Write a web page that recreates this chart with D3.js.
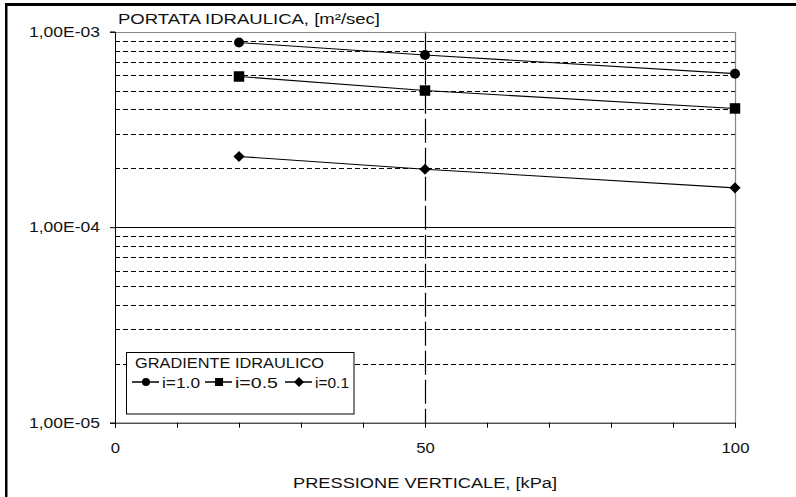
<!DOCTYPE html>
<html>
<head>
<meta charset="utf-8">
<script src="https://cdn.jsdelivr.net/npm/d3@7"></script>
<style>
  html, body { margin: 0; padding: 0; background: #fff; }
  svg { display: block; }
  text { font-family: "Liberation Sans", Arial, sans-serif; fill: #111; }
</style>
</head>
<body>
<svg id="chart" width="796" height="497"></svg>
<script>
// ---- data ----
const pressures = [20, 50, 100];
const seriesNames = ["i=1.0", "i=0.5", "i=0.1"];
const seriesSymbols = ["circle", "square", "diamond"];
const flowI10 = [8.8e-4, 7.6e-4, 6.1e-4];
const flowI05 = [5.9e-4, 5.0e-4, 4.05e-4];
const flowI01 = [2.3e-4, 1.98e-4, 1.59e-4];
const yTickValues = [1e-5, 1e-4, 1e-3];
const yTickLabels = ["1,00E-05", "1,00E-04", "1,00E-03"];
const xTickValues = [0, 10, 20, 30, 40, 50, 60, 70, 80, 90, 100];
const xLabelled = [0, 50, 100];
const yTitle = "PORTATA IDRAULICA, [m²/sec]";
const xTitle = "PRESSIONE VERTICALE, [kPa]";
const legendTitle = "GRADIENTE IDRAULICO";

const seriesData = [flowI10, flowI05, flowI01];

(function () {
// ---- layout / style ----
const svg = d3.select("#chart");
const pLeft = 115, pRight = 735, pTop = 31.7, pBottom = 422.7;
const FS = "14px";
// horizontal stretch of the original lettering
function fit(sel, w) { sel.attr("textLength", w).attr("lengthAdjust", "spacingAndGlyphs"); }

const x = d3.scaleLinear().domain([0, 100]).range([pLeft, pRight]);
const y = d3.scaleLog().domain([1e-5, 1e-3]).range([pBottom, pTop]);

// outer frame (top and left)
svg.append("rect").attr("x", 5).attr("y", 3).attr("width", 791).attr("height", 3).attr("fill", "#000");
svg.append("rect").attr("x", 5).attr("y", 3).attr("width", 2.5).attr("height", 494).attr("fill", "#000");

// minor gridlines
const minor = [];
[1e-5, 1e-4].forEach(d => { for (let m = 2; m <= 9; m++) minor.push(m * d); });
svg.append("g").selectAll("line").data(minor).join("line")
  .attr("x1", pLeft).attr("x2", pRight)
  .attr("y1", d => Math.round(y(d)) + 0.5).attr("y2", d => Math.round(y(d)) + 0.5)
  .attr("stroke", "#000").attr("stroke-width", 1).attr("stroke-dasharray", "5,3");

// major gridline
svg.append("line").attr("x1", pLeft).attr("x2", pRight)
  .attr("y1", Math.round(y(1e-4)) + 0.5).attr("y2", Math.round(y(1e-4)) + 0.5)
  .attr("stroke", "#000").attr("stroke-width", 1);

// vertical dashed line at 50
svg.append("line").attr("x1", Math.round(x(50)) + 0.5).attr("x2", Math.round(x(50)) + 0.5)
  .attr("y1", pTop).attr("y2", pBottom)
  .attr("stroke", "#000").attr("stroke-width", 1.2).attr("stroke-dasharray", "24,5");

// plot border top/right gray
svg.append("path")
  .attr("d", `M${pLeft},${Math.round(pTop) + 0.5}H${Math.round(pRight) + 0.5}V${pBottom}`)
  .attr("fill", "none").attr("stroke", "#888").attr("stroke-width", 1.2);

// axes
const yAxis = d3.axisLeft(y).tickValues(yTickValues)
  .tickFormat((d, i) => yTickLabels[i]).tickSize(5).tickPadding(10);
const gy = svg.append("g").attr("transform", `translate(${pLeft},0)`).call(yAxis);
gy.selectAll("text").style("font-size", FS).style("font-family", null).attr("fill", "#111").call(fit, 71);
gy.selectAll("line, path").attr("stroke", "#000");

const xAxis = d3.axisBottom(x).tickValues(xTickValues)
  .tickFormat(d => xLabelled.includes(d) ? String(d) : "").tickSize(5).tickPadding(15);
const gx = svg.append("g").attr("transform", `translate(0,${pBottom})`).call(xAxis);
gx.selectAll("text").style("font-size", FS).attr("fill", "#111")
  .each(function (d) {
    const s = xLabelled.includes(d) ? String(d) : "";
    if (s) d3.select(this).call(fit, s.length * 9.3);
  });
gx.selectAll("line, path").attr("stroke", "#000");

// titles
svg.append("text").attr("x", 118).attr("y", 24).style("font-size", FS).text(yTitle).call(fit, 262);
svg.append("text").attr("x", 293).attr("y", 488)
  .style("font-size", FS).text(xTitle).call(fit, 264);

// series
const diamond = { draw(ctx, size) { const r = Math.sqrt(size / 2); ctx.moveTo(0, -r); ctx.lineTo(r, 0); ctx.lineTo(0, r); ctx.lineTo(-r, 0); ctx.closePath(); } };
const symbolMap = { circle: d3.symbolCircle, square: d3.symbolSquare, diamond: diamond };
const symbolSize = { circle: 78, square: 110, diamond: 62 };
const legendSize = { circle: 50, square: 64, diamond: 50 };
const line = d3.line().x(d => x(d[0])).y(d => y(d[1]));
seriesData.forEach((vals, si) => {
  const pts = pressures.map((p, i) => [p, vals[i]]);
  svg.append("path").datum(pts).attr("d", line)
    .attr("fill", "none").attr("stroke", "#000").attr("stroke-width", 1.1);
  const sym = seriesSymbols[si];
  svg.append("g").selectAll("path").data(pts).join("path")
    .attr("transform", d => `translate(${x(d[0])},${y(d[1])})`)
    .attr("d", d3.symbol().type(symbolMap[sym]).size(symbolSize[sym]))
    .attr("fill", "#000");
});

// legend
const lg = svg.append("g");
lg.append("rect").attr("x", 126.5).attr("y", 352.5).attr("width", 227.5).attr("height", 61.5)
  .attr("fill", "#fff").attr("stroke", "#000").attr("stroke-width", 1);
lg.append("text").attr("x", 135).attr("y", 368).style("font-size", FS).text(legendTitle).call(fit, 189);
const legendX = [132, 205, 285];
const legendTextW = [38, 43, 34];
seriesNames.forEach((name, si) => {
  const lx = legendX[si], ly = 382;
  lg.append("line").attr("x1", lx).attr("x2", lx + 27).attr("y1", ly).attr("y2", ly)
    .attr("stroke", "#000").attr("stroke-width", 1.5);
  const sym = seriesSymbols[si];
  lg.append("path").attr("transform", `translate(${lx + 14},${ly})`)
    .attr("d", d3.symbol().type(symbolMap[sym]).size(legendSize[sym])).attr("fill", "#000");
  lg.append("text").attr("x", lx + 30).attr("y", ly + 6).style("font-size", FS).text(name).call(fit, legendTextW[si]);
});
})();
</script>
</body>
</html>
